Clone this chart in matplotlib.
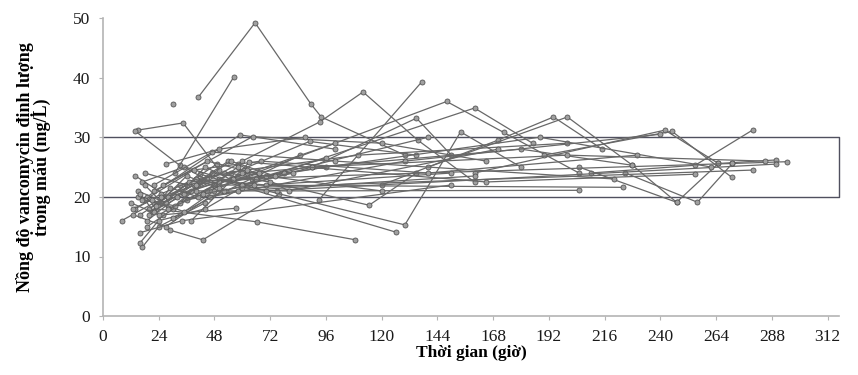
import matplotlib
matplotlib.use("Agg")

import matplotlib.pyplot as plt
import numpy as np

plt.rcParams.update({"font.family": ["Liberation Serif", "DejaVu Serif"], "font.size": 12})

# sampling times (hours) and measured vancomycin levels (mg/L), one list per patient
times = [
    [41, 65.5, 89.5, 94, 130],
    [30],
    [15, 34.5, 50],
    [14, 33, 60],
    [31, 56.3],
    [8, 22, 42],
    [23, 66.5, 108.7],
    [29, 43, 76],
    [17, 24, 44],
    [16, 26, 57.5],
    [55, 114.6, 135],
    [42, 126],
    [50, 130, 154, 180],
    [60, 93.5, 112, 135.6, 160],
    [93, 137.3],
    [45, 148, 172.6, 205],
    [60, 160, 185],
    [90, 135, 150],
    [120, 170, 194, 215],
    [140, 200, 228, 247],
    [160, 242, 265],
    [190, 245, 270.7],
    [210, 255, 279.7],
    [205, 247, 265, 290],
    [225, 256, 271, 294.6],
    [40, 75, 205],
    [60, 280],
    [70, 290],
    [55, 271],
    [48, 224],
    [19, 59, 100],
    [22, 64.4, 120, 165],
    [25, 89, 135],
    [18, 36, 64, 96],
    [14, 28, 49],
    [16, 40, 70, 150],
    [20, 33, 52, 110, 200],
    [15, 30, 45],
    [17, 35, 53, 85],
    [12, 24, 48, 100],
    [21, 38, 62, 180, 228],
    [24, 44, 66, 140],
    [26, 45, 70, 96],
    [13, 27, 46, 130, 240],
    [19, 36, 58, 160],
    [28, 50, 78, 188, 262],
    [35, 58, 80, 170],
    [18, 39, 68, 140, 230],
    [30, 52, 90, 200, 285],
    [22, 47, 100, 220],
    [33, 60, 120],
    [16, 34, 150],
    [27, 50, 87],
    [38, 63, 165, 255],
    [14, 25, 40, 62],
    [17, 31, 47, 72],
    [20, 29, 41, 58],
    [15, 27, 39, 54],
    [23, 36, 50, 67],
    [16, 22, 37, 56],
    [19, 32, 44, 60, 82],
    [13, 21, 35, 48],
    [25, 40, 55, 74],
    [18, 28, 43, 65],
]
concs = [
    [36.7, 49.2, 35.6, 33.4, 27],
    [35.5],
    [31.2, 32.4, 24.5],
    [31, 25.3, 22],
    [24, 40.1],
    [16, 19, 22.5],
    [18, 15.8, 12.8],
    [14.4, 12.8, 20.5],
    [11.6, 15, 19],
    [12.3, 17, 18.1],
    [24, 18.6, 24],
    [23.8, 14.1],
    [23, 15.3, 30.9, 25],
    [26, 32.6, 37.6, 29.5, 22.5],
    [19.5, 39.3],
    [21, 36, 30.8, 24],
    [22, 34.9, 29],
    [25, 33.2, 27],
    [22, 29.5, 33.4, 28],
    [25, 33.4, 25.3, 19.1],
    [24, 31.2, 25.6],
    [27, 31, 23.3],
    [24, 25.3, 31.2],
    [25, 19.1, 25.6, 26.2],
    [24, 19.1, 25.6, 25.9],
    [21, 21, 21.1],
    [21.5, 24.5],
    [21, 25.5],
    [23, 25.6],
    [22, 21.6],
    [20, 30.4, 28],
    [21, 30.1, 29, 26],
    [19, 29.3, 27],
    [24, 22, 23, 25],
    [23.5, 20, 25.5],
    [17, 23, 22, 24],
    [18, 22, 24, 27, 29],
    [20, 18, 23],
    [22.5, 25, 21, 27],
    [19, 17, 22, 29],
    [17.5, 21, 24, 28, 25.3],
    [16, 18, 23, 30],
    [22, 26, 23.5, 26.5],
    [17, 15, 20, 26, 30.5],
    [15, 19.5, 21, 23.5],
    [20, 22.5, 24, 30, 25],
    [20.5, 25.5, 21, 28],
    [19.5, 24.5, 26, 24, 27],
    [16.5, 21, 25, 27, 26],
    [22, 27.5, 26, 23],
    [19, 24, 21],
    [14, 16, 22],
    [25.5, 28, 30],
    [16, 25.8, 22.5, 23.8],
    [18, 20.5, 23, 24.5],
    [19.5, 18.5, 24, 22.5],
    [17, 21.5, 20, 25],
    [21, 19, 22, 26],
    [18.5, 23.5, 21.5, 24],
    [20.5, 17.5, 22.5, 23],
    [16, 20, 25, 22, 24],
    [18, 19.5, 17.5, 21],
    [20, 22, 26, 23.5],
    [22, 18, 20.5, 22],
]

target_low, target_high = 20, 30
x_ticks = np.arange(0, 313, 24)
y_ticks = np.arange(0, 51, 10)

fig = plt.figure(figsize=(8.58, 3.75), dpi=100)
ax = fig.add_axes([0.12, 0.157, 0.858, 0.795])

for t, c in zip(times, concs):
    ax.plot(t, c, "-o", color="#686868", lw=0.9, ms=3.6,
            mfc="#a0a0a0", mec="#555555", mew=0.6, zorder=3)

# target range box 20-30 mg/L
x_max = 317
ax.plot([0, x_max, x_max, 0], [target_high, target_high, target_low, target_low],
        color="#50505f", lw=1.0, zorder=2, clip_on=False)

ax.set_xlim(0, x_max)
ax.set_ylim(0, 50)
ax.set_xticks(x_ticks)
ax.set_yticks(y_ticks)
for s in ["top", "right"]:
    ax.spines[s].set_visible(False)
for s in ["left", "bottom"]:
    ax.spines[s].set_color("#b4b4b4")
    ax.spines[s].set_linewidth(1.2)
ax.tick_params(length=3, color="#b4b4b4", labelsize=12.5, labelcolor="#1a1a1a", pad=6)

ax.set_xlabel("Thời gian (giờ)", fontweight="bold", fontsize=12.5, labelpad=0)
ax.set_ylabel("Nồng độ vancomycin định lượng\ntrong máu (mg/L)", fontweight="bold",
              fontsize=13, linespacing=0.95, labelpad=16)

fig.savefig("out.png", dpi=100)
